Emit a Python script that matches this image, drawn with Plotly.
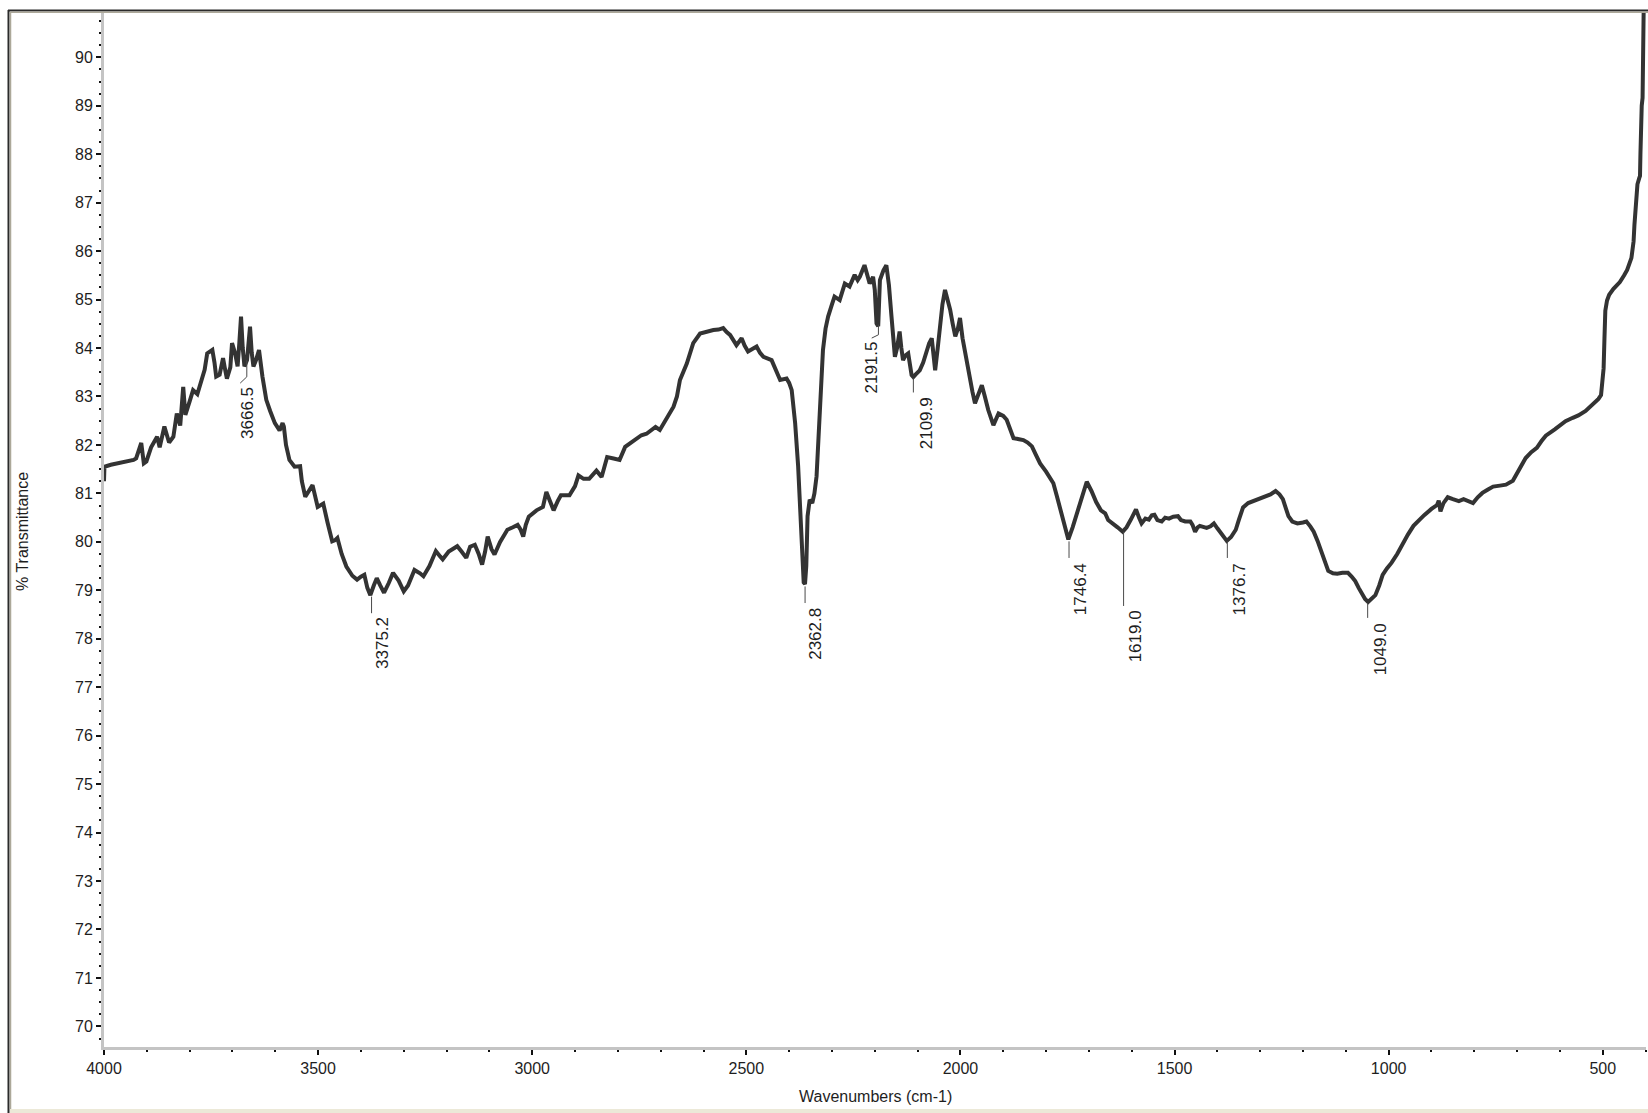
import plotly.graph_objects as go

# ---------------- data ----------------
wavenumber = [
    4000, 3999, 3984, 3965, 3950, 3931, 3925, 3913, 3907, 3901, 3890, 3876, 3870, 3859, 3848,
    3838, 3830, 3822, 3815, 3810, 3800, 3792, 3782, 3772, 3765, 3759, 3747, 3742, 3738, 3730,
    3722, 3716, 3713, 3705, 3701, 3694, 3688, 3684, 3680, 3676, 3672, 3666, 3659, 3655, 3651,
    3645, 3638, 3630, 3621, 3612, 3601, 3590, 3583, 3580, 3575, 3567, 3555, 3542, 3538, 3530,
    3522, 3513, 3501, 3488, 3478, 3467, 3461, 3455, 3445, 3434, 3420, 3409, 3400, 3392, 3385,
    3378, 3370, 3363, 3355, 3346, 3335, 3325, 3312, 3300, 3290, 3275, 3262, 3254, 3240, 3225,
    3215, 3209, 3195, 3175, 3165, 3154, 3145, 3134, 3125, 3117, 3110, 3104, 3095, 3088, 3075,
    3058, 3045, 3034, 3027, 3021, 3015, 3008, 2990, 2975, 2967, 2958, 2950, 2940, 2933, 2913,
    2900, 2892, 2880, 2867, 2858, 2850, 2838, 2832, 2825, 2810, 2796, 2783, 2770, 2758, 2745,
    2733, 2722, 2712, 2702, 2690, 2670, 2662, 2655, 2639, 2624, 2608, 2590, 2577, 2565, 2554,
    2546, 2538, 2523, 2511, 2504, 2496, 2486, 2476, 2468, 2460, 2441, 2431, 2421, 2406, 2400,
    2394, 2386, 2379, 2373, 2369, 2366, 2363, 2360, 2357, 2352, 2346, 2341, 2336, 2329, 2321,
    2315, 2309, 2300, 2294, 2282, 2270, 2259, 2247, 2240, 2235, 2224, 2218, 2212, 2204, 2200,
    2196, 2192, 2188, 2180, 2173, 2167, 2161, 2153, 2148, 2142, 2138, 2134, 2128, 2122, 2114,
    2110, 2105, 2095, 2087, 2079, 2073, 2067, 2063, 2059, 2053, 2048, 2042, 2036, 2030, 2024,
    2018, 2012, 2006, 2001, 1995, 1989, 1978, 1972, 1966, 1958, 1950, 1943, 1935, 1923, 1917,
    1911, 1900, 1892, 1876, 1865, 1853, 1843, 1833, 1824, 1814, 1800, 1783, 1775, 1767, 1758,
    1748, 1738, 1728, 1716, 1705, 1694, 1683, 1672, 1662, 1655, 1645, 1633, 1621, 1612, 1602,
    1590, 1583, 1577, 1568, 1560, 1553, 1547, 1540, 1530, 1522, 1513, 1503, 1492, 1485, 1475,
    1463, 1458, 1452, 1446, 1441, 1433, 1425, 1416, 1408, 1400, 1391, 1384, 1378, 1368, 1357,
    1350, 1340, 1328, 1315, 1302, 1289, 1276, 1264, 1255, 1247, 1240, 1234, 1225, 1213, 1200,
    1192, 1183, 1175, 1166, 1158, 1150, 1141, 1130, 1120, 1108, 1095, 1086, 1078, 1070, 1061,
    1055, 1048, 1040, 1031, 1022, 1014, 1004, 993, 980, 968, 955, 942, 930, 917, 900,
    887, 883, 879, 872, 862, 850, 836, 825, 811, 803, 792, 781, 768, 756, 740,
    726, 710, 695, 680, 667, 654, 643, 633, 612, 600, 587, 570, 557, 540, 530,
    519, 510, 504, 500, 498, 496, 494, 490, 485, 475, 460, 450, 443, 433, 428,
    426, 422, 419, 415, 413, 412, 411, 409, 407, 405, 403,
]
transmittance = [
    81.25, 81.55, 81.59, 81.62, 81.66, 81.69, 81.72, 82.04, 81.62, 81.66, 81.95, 82.17, 81.95, 82.38, 82.05,
    82.17, 82.65, 82.40, 83.20, 82.62, 82.90, 83.13, 83.05, 83.34, 83.55, 83.89, 83.96, 83.70, 83.41, 83.45,
    83.79, 83.50, 83.37, 83.60, 84.10, 83.90, 83.62, 84.10, 84.65, 84.00, 83.62, 83.75, 84.44, 83.90, 83.62,
    83.75, 83.96, 83.41, 82.93, 82.70, 82.45, 82.30, 82.45, 82.38, 82.00, 81.69, 81.55, 81.56, 81.25, 80.93,
    81.05, 81.17, 80.72, 80.79, 80.40, 80.01, 80.03, 80.08, 79.75, 79.49, 79.30, 79.22, 79.28, 79.32, 79.05,
    78.90, 79.10, 79.25, 79.10, 78.95, 79.15, 79.36, 79.20, 78.98, 79.10, 79.42, 79.35, 79.29, 79.50, 79.81,
    79.70, 79.64, 79.80, 79.91, 79.80, 79.67, 79.90, 79.94, 79.75, 79.53, 79.80, 80.11, 79.85, 79.74, 80.00,
    80.25, 80.30, 80.35, 80.25, 80.11, 80.35, 80.52, 80.65, 80.72, 81.03, 80.80, 80.65, 80.85, 80.96, 80.96,
    81.15, 81.37, 81.30, 81.30, 81.40, 81.47, 81.34, 81.55, 81.75, 81.72, 81.69, 81.96, 82.05, 82.13, 82.20,
    82.23, 82.30, 82.37, 82.31, 82.50, 82.79, 83.00, 83.34, 83.68, 84.10, 84.30, 84.35, 84.37, 84.38, 84.41,
    84.33, 84.27, 84.06, 84.20, 84.05, 83.93, 83.98, 84.03, 83.90, 83.82, 83.75, 83.55, 83.34, 83.37, 83.28,
    83.13, 82.45, 81.56, 80.53, 79.60, 79.16, 79.13, 79.50, 80.53, 80.87, 80.80, 81.00, 81.35, 82.59, 83.96,
    84.40, 84.65, 84.90, 85.06, 84.99, 85.33, 85.27, 85.51, 85.40, 85.47, 85.71, 85.50, 85.33, 85.47, 85.20,
    84.51, 84.45, 85.40, 85.60, 85.71, 85.30, 84.65, 83.82, 84.00, 84.34, 84.00, 83.75, 83.85, 83.89, 83.44,
    83.40, 83.45, 83.54, 83.70, 83.96, 84.10, 84.20, 83.90, 83.54, 84.00, 84.51, 84.90, 85.20, 85.00, 84.79,
    84.50, 84.24, 84.40, 84.62, 84.20, 83.89, 83.34, 83.10, 82.86, 83.05, 83.23, 83.00, 82.72, 82.41, 82.55,
    82.65, 82.60, 82.52, 82.14, 82.12, 82.10, 82.05, 81.97, 81.80, 81.62, 81.45, 81.21, 80.95, 80.66, 80.35,
    80.05, 80.30, 80.59, 80.95, 81.24, 81.05, 80.82, 80.65, 80.59, 80.45, 80.39, 80.30, 80.21, 80.30, 80.46,
    80.67, 80.50, 80.38, 80.48, 80.46, 80.55, 80.56, 80.45, 80.42, 80.50, 80.48, 80.52, 80.53, 80.45, 80.42,
    80.42, 80.35, 80.21, 80.30, 80.33, 80.30, 80.29, 80.32, 80.38, 80.28, 80.17, 80.08, 80.02, 80.10, 80.25,
    80.45, 80.71, 80.80, 80.84, 80.88, 80.92, 80.98, 81.05, 80.98, 80.88, 80.70, 80.53, 80.42, 80.38, 80.40,
    80.42, 80.32, 80.21, 80.02, 79.83, 79.62, 79.40, 79.35, 79.34, 79.36, 79.36, 79.28, 79.19, 79.05, 78.90,
    78.82, 78.76, 78.82, 78.90, 79.10, 79.32, 79.45, 79.57, 79.75, 79.95, 80.15, 80.33, 80.45, 80.55, 80.68,
    80.76, 80.85, 80.63, 80.80, 80.92, 80.88, 80.84, 80.88, 80.84, 80.80, 80.92, 81.01, 81.08, 81.14, 81.16,
    81.18, 81.26, 81.50, 81.73, 81.85, 81.94, 82.08, 82.19, 82.32, 82.40, 82.49, 82.56, 82.61, 82.70, 82.78,
    82.87, 82.95, 83.03, 83.30, 83.58, 84.20, 84.77, 84.98, 85.10, 85.22, 85.36, 85.50, 85.61, 85.86, 86.20,
    86.54, 87.00, 87.38, 87.50, 87.55, 88.00, 88.65, 89.00, 89.16, 90.89, 92.00,
]

peak_wavenumbers = [3666.5, 3375.2, 2362.8, 2191.5, 2109.9, 1746.4, 1619.0, 1376.7, 1049.0]
peak_transmittance = [83.75, 78.87, 79.08, 84.48, 83.38, 80.01, 80.21, 80.01, 78.74]

x_tick_values = [4000, 3500, 3000, 2500, 2000, 1500, 1000, 500]
y_tick_values = list(range(70, 91))

x_title = "Wavenumbers (cm-1)"
y_title = "% Transmittance"

# ---------------- styling / layout ----------------
W, H = 1648, 1113
L, R, T, B = 104, 2, 13, 66
PW, PH = W - L - R, H - T - B

# leader-line / label geometry per peak (pixels): (vertical length, diag dx, diag dy, label dx, label top offset)
leader_geom = [
    (16.7, -6.6, 6.3, 0.0, 25.0),
    (16.6, 0, 0, 11.5, 18.3),
    (16.6, 0, 0, 11.0, 19.3),
    (10.0, -6.7, 3.3, -6.7, 15.0),
    (14.4, 0, 0, 13.4, 17.4),
    (16.6, 0, 0, 11.8, 20.0),
    (74.3, 0, 0, 11.5, 76.6),
    (16.6, 0, 0, 11.7, 20.0),
    (15.0, 0, 0, 12.4, 18.4),
]

FONT = "Liberation Sans, Arial, sans-serif"
TXT = "#1e1e1e"

fig = go.Figure()
fig.add_trace(go.Scatter(
    x=wavenumber, y=transmittance, mode="lines",
    line=dict(color="#333333", width=4),
    hoverinfo="skip", showlegend=False, cliponaxis=True,
))

shapes = []
annotations = []
for wn, tp, (vlen, ddx, ddy, ldx, ltop) in zip(peak_wavenumbers, peak_transmittance, leader_geom):
    shapes.append(dict(type="line", xref="x", yref="y", xsizemode="pixel", ysizemode="pixel",
                       xanchor=wn, yanchor=tp, x0=0, y0=0, x1=0, y1=-vlen,
                       line=dict(color="#4a4a4a", width=1)))
    if ddx or ddy:
        shapes.append(dict(type="line", xref="x", yref="y", xsizemode="pixel", ysizemode="pixel",
                           xanchor=wn, yanchor=tp, x0=0, y0=-vlen, x1=ddx, y1=-vlen - ddy,
                           line=dict(color="#4a4a4a", width=1)))
    annotations.append(dict(x=wn, y=tp, xref="x", yref="y", text=f"{wn:.1f}",
                            textangle=-90, showarrow=False, xanchor="center", yanchor="top",
                            xshift=ldx, yshift=-ltop,
                            font=dict(family=FONT, size=17, color=TXT)))


def px(xp):
    return (xp - L) / PW


def py(yp):
    return (H - B - yp) / PH


# window frame
shapes += [
    dict(type="rect", xref="paper", yref="paper", x0=px(10), x1=px(W + 5), y0=py(1109), y1=py(H + 5),
         fillcolor="#ECE9D8", line=dict(width=0), layer="below"),
    dict(type="line", xref="paper", yref="paper", x0=px(8.5), x1=px(8.5), y0=py(10), y1=py(H + 5),
         line=dict(color="#2b2b2b", width=2)),
    dict(type="line", xref="paper", yref="paper", x0=px(8), x1=px(W + 5), y0=py(10.5), y1=py(10.5),
         line=dict(color="#2b2b2b", width=2)),
    dict(type="line", xref="paper", yref="paper", x0=px(10.5), x1=px(10.5), y0=py(12), y1=py(1109),
         line=dict(color="#ACA899", width=1.5)),
    dict(type="line", xref="paper", yref="paper", x0=px(10), x1=px(W + 5), y0=py(12.3), y1=py(12.3),
         line=dict(color="#ACA899", width=1.5)),
]

annotations += [
    dict(x=px(23), y=py(532), xref="paper", yref="paper", text=y_title, textangle=-90,
         showarrow=False, xanchor="center", yanchor="middle",
         font=dict(family=FONT, size=16, color=TXT)),
    dict(x=0.5, y=py(1096), xref="paper", yref="paper", text=x_title,
         showarrow=False, xanchor="center", yanchor="middle",
         font=dict(family=FONT, size=16, color=TXT)),
]

fig.update_layout(
    width=W, height=H,
    margin=dict(l=L, r=R, t=T, b=B, pad=0),
    paper_bgcolor="white", plot_bgcolor="white",
    showlegend=False,
    shapes=shapes, annotations=annotations,
    font=dict(family=FONT, size=16, color=TXT),
)
fig.update_xaxes(
    range=[4000, 399], tickvals=x_tick_values, ticktext=[str(v) for v in x_tick_values],
    showgrid=False, zeroline=False,
    showline=True, linecolor="#c4c4c4", linewidth=3,
    ticks="outside", ticklen=5, tickwidth=1.5, tickcolor="#111111",
    minor=dict(dtick=100, tick0=0, ticks="outside", ticklen=2, tickwidth=2, tickcolor="#111111", showgrid=False),
    tickfont=dict(family=FONT, size=16, color=TXT),
)
fig.update_yaxes(
    range=[69.575, 90.914], tickvals=y_tick_values, ticktext=[str(v) for v in y_tick_values],
    showgrid=False, zeroline=False,
    showline=True, linecolor="#c4c4c4", linewidth=3,
    ticks="outside", ticklen=5, tickwidth=1.5, tickcolor="#111111",
    minor=dict(dtick=0.25, tick0=0, ticks="outside", ticklen=2, tickwidth=2, tickcolor="#111111", showgrid=False),
    tickfont=dict(family=FONT, size=16, color=TXT),
)

fig.write_html("out.html", config={"displayModeBar": False},
               post_script="document.body.style.margin='0px'; document.body.style.overflow='hidden';")
